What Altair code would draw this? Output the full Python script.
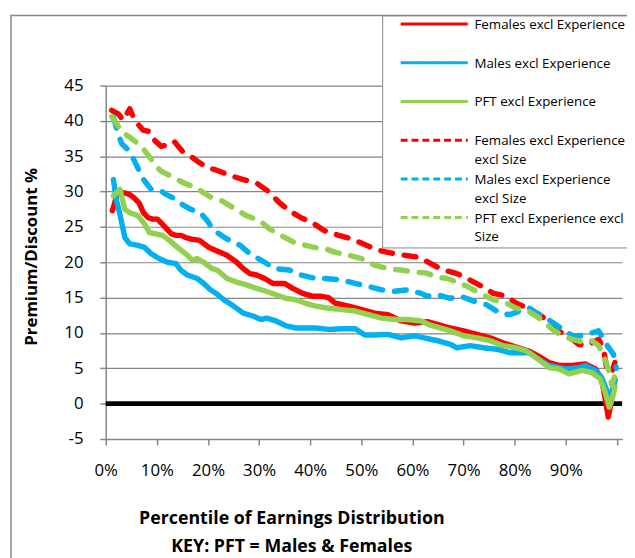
import altair as alt
import pandas as pd

series = [
    "Females excl Experience",
    "Males excl Experience",
    "PFT excl Experience",
    "Females excl Experience excl Size",
    "Males excl Experience excl Size",
    "PFT excl Experience excl Size",
]
solid_series = series[:3]
dashed_series = series[3:]
colors = ["#FF0000", "#00B0F0", "#92D050", "#FF0000", "#00B0F0", "#92D050"]
legend_dashes = [[1, 0], [1, 0], [1, 0], [7, 4], [7, 4], [7, 4]]
plot_dash = [12, 12]
wrapped = {
    "Females excl Experience excl Size": ["Females excl Experience", "excl Size"],
    "Males excl Experience excl Size": ["Males excl Experience", "excl Size"],
    "PFT excl Experience excl Size": ["PFT excl Experience excl", "Size"],
}

# Females excl Experience
f_x = [1.3, 2.2, 2.84, 3.74, 4.64, 5.54, 6.5, 7.41, 8.31, 9.2, 10.1, 11.07, 11.97, 12.88, 13.78, 14.74,
       15.64, 16.54, 17.45, 18.35, 19.25, 20.21, 21.76, 23.7, 25.6, 26.9, 28.2, 29.5, 31.1, 32.7, 35.0,
       36.6, 38.5, 40.4, 42.0, 43.6, 44.9, 47.5, 50.1, 52.6, 55.2, 57.8, 60.4, 62.9, 64.9, 67.4, 70.0,
       72.6, 75.2, 77.7, 80.3, 82.9, 84.5, 86.7, 88.7, 91.3, 93.8, 95.8, 97.0, 97.7, 98.3, 99.0, 99.6]
f_y = [27.3, 29.5, 29.8, 29.8, 29.6, 29.1, 28.4, 27.0, 26.3, 26.1, 26.1, 25.4, 24.7, 24.0, 23.8, 23.8,
       23.5, 23.3, 23.2, 23.1, 22.6, 22.1, 21.6, 21.0, 20.0, 19.1, 18.4, 18.2, 17.7, 17.0, 17.0,
       16.3, 15.6, 15.2, 15.2, 15.0, 14.2, 13.8, 13.3, 12.8, 12.6, 11.7, 11.4, 11.6, 11.2, 10.7, 10.3,
       9.8, 9.3, 8.6, 8.0, 7.4, 6.8, 5.8, 5.4, 5.4, 5.6, 4.9, 3.5, 0.7, -1.9, 0.7, 3.5]

# Males excl Experience
m_x = [1.49, 2.13, 2.77, 3.74, 4.7, 6.31, 7.6, 8.89, 10.5, 12.1, 13.71, 14.68, 15.96, 17.9, 19.18,
       20.47, 21.76, 23.1, 25.0, 26.9, 28.8, 30.4, 31.4, 33.3, 35.3, 37.2, 39.1, 41.1, 43.6, 46.2,
       48.8, 50.7, 52.6, 55.2, 57.8, 60.4, 62.3, 64.9, 67.4, 68.7, 71.3, 73.9, 76.5, 79.0, 81.0, 82.9,
       84.2, 86.7, 90.0, 92.5, 93.8, 95.8, 97.0, 98.0, 98.7, 99.6]
m_y = [31.7, 28.7, 26.8, 23.5, 22.6, 22.4, 22.1, 21.2, 20.5, 20.0, 19.8, 18.9, 18.2, 17.7, 17.0,
       16.1, 15.5, 14.7, 13.8, 12.8, 12.4, 11.9, 12.1, 11.7, 11.0, 10.7, 10.7, 10.7, 10.5, 10.6,
       10.6, 9.7, 9.7, 9.8, 9.3, 9.6, 9.3, 8.9, 8.4, 7.9, 8.2, 7.9, 7.7, 7.2, 7.2, 7.2,
       6.5, 5.4, 4.9, 5.1, 5.4, 4.7, 3.7, 1.9, 0.7, 3.3]

# PFT excl Experience
p_x = [1.49, 2.77, 3.74, 4.7, 6.31, 7.6, 8.56, 9.85, 11.14, 12.43, 14.03, 15.64, 16.93, 17.9, 19.18,
       20.79, 21.8, 23.7, 25.6, 27.5, 29.5, 31.4, 33.3, 35.3, 37.2, 39.1, 41.1, 43.6, 46.2, 48.8,
       51.4, 53.9, 56.5, 59.1, 61.7, 63.5, 67.4, 70.0, 72.6, 75.2, 77.7, 80.3, 82.2, 84.2, 86.7,
       88.7, 90.6, 93.2, 95.1, 96.7, 97.7, 98.5, 99.1, 99.6]
p_y = [29.4, 30.3, 27.5, 27.0, 26.6, 25.4, 24.2, 24.0, 23.8, 23.1, 22.1, 21.2, 20.3, 20.5, 20.0,
       19.1, 18.9, 17.7, 17.2, 16.8, 16.3, 15.9, 15.4, 14.9, 14.7, 14.2, 13.8, 13.5, 13.3, 13.1,
       12.6, 12.1, 11.9, 11.9, 11.7, 11.1, 10.3, 9.6, 9.3, 8.9, 8.2, 7.9, 7.5, 6.5, 5.1,
       4.9, 4.2, 4.7, 4.4, 3.5, 1.6, -0.5, 0.7, 2.3]

# Females excl Experience excl Size
fs_x = [1.16, 2.45, 3.42, 4.7, 5.67, 7.28, 8.56, 9.21, 10.82, 12.1, 13.39, 15.0, 16.61, 17.9, 19.83,
        21.43, 24.7, 26.9, 29.5, 31.7, 34.0, 35.9, 38.2, 40.4, 42.7, 45.6, 48.1, 50.4, 53.3, 55.9,
        58.4, 61.3, 63.6, 64.9, 66.2, 68.7, 70.7, 73.6, 75.8, 78.4, 80.3, 82.9, 84.8, 86.1, 87.4,
        89.3, 91.3, 92.5, 93.8, 95.1, 96.4, 97.4, 98.0, 99.0, 99.6]
fs_y = [41.5, 41.0, 40.1, 41.7, 40.1, 38.7, 38.5, 37.5, 36.4, 36.6, 37.1, 35.7, 35.0, 34.3, 33.4,
        33.1, 32.2, 31.7, 31.2, 30.1, 28.4, 27.3, 26.3, 25.6, 24.5, 23.8, 23.3, 22.6, 21.7, 21.3,
        21.0, 20.7, 19.8, 19.3, 18.9, 18.4, 17.7, 16.6, 15.6, 15.2, 14.2, 13.4, 12.6, 11.9, 10.7,
        10.0, 9.1, 8.4, 8.2, 8.6, 9.1, 7.7, 4.9, 4.4, 5.8]

# Males excl Experience excl Size
ms_x = [1.49, 2.13, 3.09, 4.38, 5.03, 6.31, 6.96, 7.6, 8.89, 10.82, 11.78, 13.71, 15.32, 16.61, 18.54,
        19.83, 20.79, 21.8, 23.7, 26.3, 28.2, 31.1, 33.0, 35.9, 38.2, 41.1, 43.0, 46.2, 48.8, 51.4,
        53.9, 56.5, 59.1, 61.7, 62.9, 64.9, 67.4, 69.4, 72.0, 74.5, 77.1, 79.0, 81.0, 82.9, 84.2,
        85.5, 88.0, 91.3, 93.2, 96.4, 97.4, 98.3, 99.3, 99.9]
ms_y = [40.6, 38.9, 36.8, 35.9, 35.2, 33.3, 32.2, 31.5, 30.3, 30.1, 29.6, 28.9, 28.0, 27.5, 27.0,
        25.9, 24.9, 24.2, 23.3, 22.4, 21.2, 20.0, 19.1, 18.9, 18.2, 17.7, 17.7, 17.5, 17.0, 16.6,
        16.1, 15.9, 16.1, 15.6, 15.2, 15.4, 14.9, 15.2, 14.5, 14.0, 12.8, 12.6, 13.1, 13.5, 12.8,
        12.4, 11.2, 9.6, 9.6, 10.3, 9.1, 8.0, 7.0, 5.0]

# PFT excl Experience excl Size
ps_x = [1.16, 2.13, 3.09, 5.03, 6.96, 8.24, 9.85, 10.82, 12.75, 15.32, 17.9, 19.18, 20.79, 22.7, 25.0,
        27.5, 30.1, 32.1, 34.3, 36.9, 39.1, 41.4, 43.0, 44.9, 47.5, 50.1, 52.6, 55.2, 57.8, 60.4,
        62.6, 64.9, 66.8, 68.7, 70.7, 73.2, 75.8, 78.4, 80.3, 82.9, 84.8, 87.4, 89.3, 91.3, 93.8,
        95.1, 96.4, 97.4, 98.3, 99.0, 99.6]
ps_y = [40.6, 39.6, 38.5, 37.5, 36.4, 35.2, 33.6, 32.9, 32.2, 31.2, 30.5, 29.8, 29.1, 28.7, 27.7,
        26.6, 25.9, 24.7, 23.8, 22.8, 22.4, 22.0, 21.9, 21.4, 21.0, 20.5, 19.6, 19.1, 18.9, 18.6,
        18.5, 17.9, 17.7, 17.2, 16.6, 15.6, 14.7, 14.2, 13.5, 13.0, 12.1, 10.5, 9.6, 9.1, 8.6,
        8.9, 8.2, 6.8, 4.9, 2.6, 4.0]

x_ticks = [0, 10, 20, 30, 40, 50, 60, 70, 80, 90, 100]
y_ticks = [-5, 0, 5, 10, 15, 20, 25, 30, 35, 40, 45]
x_title = ["Percentile of Earnings Distribution", "KEY: PFT = Males & Females"]
y_title = "Premium/Discount %"

all_x = [f_x, m_x, p_x, fs_x, ms_x, ps_x]
all_y = [f_y, m_y, p_y, fs_y, ms_y, ps_y]
rows = []
for name, xs, ys in zip(series, all_x, all_y):
    for a, b in zip(xs, ys):
        rows.append({"series": name, "pct": a, "value": b})
df = pd.DataFrame(rows)
df_solid = df[df["series"].isin(solid_series)]
df_dashed = df[df["series"].isin(dashed_series)]

FONT = "Open Sans"
GRAY = "#868686"

label_expr = "".join(
    f"datum.label == '{k}' ? {v!r} : " for k, v in wrapped.items()
) + "datum.label"

legend = alt.Legend(
    title=None, orient="none", legendX=280, legendY=-71, direction="vertical",
    fillColor="white", strokeColor=GRAY, padding=3,
    symbolType="M-6.8,-0.2L6.8,-0.2", symbolSize=100, symbolStrokeWidth=3,
    symbolOffset=43, labelOffset=34, rowPadding=5.2, gridAlign="all",
    labelFont=FONT, labelFontSize=13.5, labelColor="black", labelBaseline="middle",
    labelLimit=400, labelExpr=label_expr,
)

xscale = alt.Scale(domain=[0, 101], nice=False, zero=False)
yscale = alt.Scale(domain=[-5, 45], nice=False, zero=False)
cscale = alt.Scale(domain=series, range=colors)

x_axis = alt.Axis(
    values=x_ticks, labelExpr="datum.value >= 100 ? '' : datum.value + '%'", labelFlush=False,
    grid=False, domainColor=GRAY, tickColor=GRAY, tickSize=6, domainWidth=1.5, tickWidth=1.5,
    labelFont=FONT, labelFontSize=17, labelColor="black", labelPadding=18,
    title=x_title, titleFont=FONT, titleFontSize=18, titleFontWeight="bold", titleColor="black",
    titleX=188, titleY=72, titleAlign="center", titleBaseline="top", titleLineHeight=28,
    titleAnchor="start",
)
y_axis = alt.Axis(
    values=y_ticks, labelExpr="'' + datum.value", labelFlush=False,
    grid=True, gridColor=GRAY, gridWidth=1.2,
    domainColor=GRAY, tickColor=GRAY, tickSize=6, domainWidth=1.5, tickWidth=1.5,
    labelFont=FONT, labelFontSize=17, labelColor="black", labelPadding=17,
    title=y_title, titleFont=FONT, titleFontSize=17, titleFontWeight="bold", titleColor="black",
    titleX=-75, titleY=173, titleAngle=270, titleAlign="center", titleBaseline="middle",
)

frame = alt.Chart(pd.DataFrame({"a": [0]})).mark_rect(
    fillOpacity=0, stroke=GRAY, strokeWidth=1.5
).encode(x=alt.value(-96), x2=alt.value(800), y=alt.value(-71), y2=alt.value(700))

zero = alt.Chart(pd.DataFrame({"x": [0], "x2": [101], "y": [0]})).mark_rule(
    color="black", strokeWidth=5
).encode(
    x=alt.X("x:Q", scale=xscale, axis=x_axis),
    x2="x2:Q",
    y=alt.Y("y:Q", scale=yscale, axis=y_axis),
)


def line_layer(data, **mark_kw):
    return alt.Chart(data).mark_line(strokeCap="round", strokeJoin="round", **mark_kw).encode(
        x=alt.X("pct:Q", scale=xscale, axis=x_axis),
        y=alt.Y("value:Q", scale=yscale, axis=y_axis),
        color=alt.Color("series:N", scale=cscale, legend=legend),
        order=alt.Order("pct:Q"),
    )


solid_lines = line_layer(df_solid, strokeWidth=5.5)
dashed_lines = line_layer(df_dashed, strokeWidth=5.5, strokeDash=plot_dash)

# invisible layer that only carries the legend's dash pattern
legend_layer = alt.Chart(df).mark_line(strokeWidth=0).encode(
    x=alt.X("pct:Q", scale=xscale, axis=x_axis),
    y=alt.Y("value:Q", scale=yscale, axis=y_axis),
    color=alt.Color("series:N", scale=cscale, legend=legend),
    strokeDash=alt.StrokeDash("series:N", scale=alt.Scale(domain=series, range=legend_dashes), legend=legend),
)

chart = alt.layer(frame, zero, solid_lines, dashed_lines, legend_layer).properties(
    width=523, height=358,
    autosize=alt.AutoSizeParams(type="none"),
    padding={"left": 99, "top": 75, "right": 5, "bottom": 117},
).configure(
    style={"guide-label": {"lineHeight": 19}},
).configure_view(stroke="transparent")

chart.save("out.html", embed_options={"renderer": "svg", "actions": False})
